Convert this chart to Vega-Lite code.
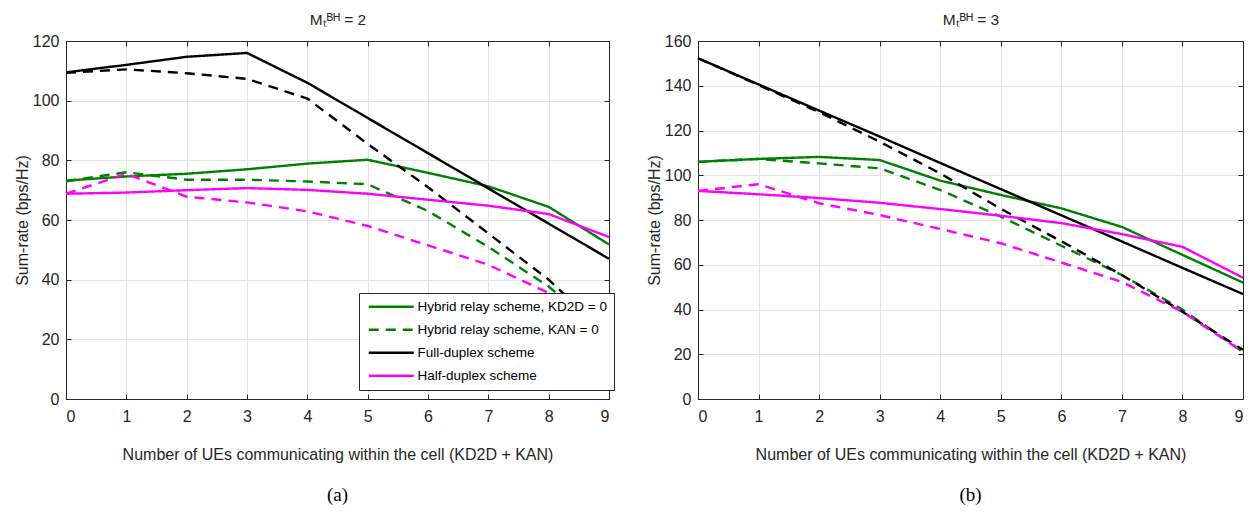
{
  "$schema": "https://vega.github.io/schema/vega-lite/v6.json",
  "background": "white",
  "padding": {"left": 13, "top": 12, "right": 0, "bottom": 0},
  "spacing": 30,
  "config": {
    "font": "Liberation Sans",
    "view": {"stroke": "#262626", "strokeWidth": 1},
    "axis": {
      "labelFontSize": 16,
      "titleFontSize": 16,
      "labelColor": "#262626",
      "titleColor": "#262626",
      "titleFontWeight": "normal",
      "gridColor": "#e3e3e3",
      "gridWidth": 1,
      "domainColor": "#262626",
      "tickColor": "#262626",
      "tickSize": -5,
      "labelFont": "Liberation Sans",
      "titleFont": "Liberation Sans"
    },
    "legend": {
      "orient": "none",
      "strokeColor": "#262626",
      "fillColor": "white",
      "labelFontSize": 13.5,
      "labelColor": "#000000",
      "labelFont": "Liberation Sans",
      "symbolType": "M-1,0H10.25",
      "symbolSize": 64,
      "symbolStrokeWidth": 2.5,
      "symbolOffset": 0,
      "labelOffset": 38,
      "padding": 7,
      "rowPadding": 8,
      "labelLimit": 300
    }
  },
  "datasets": {
    "a": [
      {"s": "Hybrid relay scheme, KD2D = 0", "x": 0, "y": 73.2},
      {"s": "Hybrid relay scheme, KD2D = 0", "x": 1, "y": 74.6},
      {"s": "Hybrid relay scheme, KD2D = 0", "x": 2, "y": 75.5},
      {"s": "Hybrid relay scheme, KD2D = 0", "x": 3, "y": 77.0},
      {"s": "Hybrid relay scheme, KD2D = 0", "x": 4, "y": 78.9},
      {"s": "Hybrid relay scheme, KD2D = 0", "x": 5, "y": 80.2},
      {"s": "Hybrid relay scheme, KD2D = 0", "x": 6, "y": 75.8},
      {"s": "Hybrid relay scheme, KD2D = 0", "x": 7, "y": 71.3},
      {"s": "Hybrid relay scheme, KD2D = 0", "x": 8, "y": 64.4},
      {"s": "Hybrid relay scheme, KD2D = 0", "x": 9, "y": 51.8},
      {"s": "Hybrid relay scheme, KAN = 0", "x": 0, "y": 73.0},
      {"s": "Hybrid relay scheme, KAN = 0", "x": 1, "y": 76.0},
      {"s": "Hybrid relay scheme, KAN = 0", "x": 2, "y": 73.5},
      {"s": "Hybrid relay scheme, KAN = 0", "x": 3, "y": 73.5},
      {"s": "Hybrid relay scheme, KAN = 0", "x": 4, "y": 72.9},
      {"s": "Hybrid relay scheme, KAN = 0", "x": 5, "y": 72.0},
      {"s": "Hybrid relay scheme, KAN = 0", "x": 6, "y": 63.0},
      {"s": "Hybrid relay scheme, KAN = 0", "x": 7, "y": 51.0},
      {"s": "Hybrid relay scheme, KAN = 0", "x": 8, "y": 37.7},
      {"s": "Hybrid relay scheme, KAN = 0", "x": 9, "y": 20.5},
      {"s": "Full-duplex scheme", "x": 0, "y": 109.5},
      {"s": "Full-duplex scheme", "x": 1, "y": 112.0},
      {"s": "Full-duplex scheme", "x": 2, "y": 114.7},
      {"s": "Full-duplex scheme", "x": 3, "y": 116.0},
      {"s": "Full-duplex scheme", "x": 4, "y": 106.0},
      {"s": "Full-duplex scheme", "x": 5, "y": 94.2},
      {"s": "Full-duplex scheme", "x": 6, "y": 82.4},
      {"s": "Full-duplex scheme", "x": 7, "y": 70.6},
      {"s": "Full-duplex scheme", "x": 8, "y": 58.8},
      {"s": "Full-duplex scheme", "x": 9, "y": 47.0},
      {"s": "Full-duplex dashed", "x": 0, "y": 109.3},
      {"s": "Full-duplex dashed", "x": 1, "y": 110.5},
      {"s": "Full-duplex dashed", "x": 2, "y": 109.2},
      {"s": "Full-duplex dashed", "x": 3, "y": 107.3},
      {"s": "Full-duplex dashed", "x": 4, "y": 100.7},
      {"s": "Full-duplex dashed", "x": 5, "y": 85.5},
      {"s": "Full-duplex dashed", "x": 6, "y": 71.0},
      {"s": "Full-duplex dashed", "x": 7, "y": 55.5},
      {"s": "Full-duplex dashed", "x": 8, "y": 40.0},
      {"s": "Full-duplex dashed", "x": 9, "y": 21.0},
      {"s": "Half-duplex scheme", "x": 0, "y": 68.8},
      {"s": "Half-duplex scheme", "x": 1, "y": 69.2},
      {"s": "Half-duplex scheme", "x": 2, "y": 70.0},
      {"s": "Half-duplex scheme", "x": 3, "y": 70.7},
      {"s": "Half-duplex scheme", "x": 4, "y": 70.1},
      {"s": "Half-duplex scheme", "x": 5, "y": 68.8},
      {"s": "Half-duplex scheme", "x": 6, "y": 66.8},
      {"s": "Half-duplex scheme", "x": 7, "y": 64.8},
      {"s": "Half-duplex scheme", "x": 8, "y": 62.0},
      {"s": "Half-duplex scheme", "x": 9, "y": 54.3},
      {"s": "Half-duplex dashed", "x": 0, "y": 68.8},
      {"s": "Half-duplex dashed", "x": 1, "y": 75.5},
      {"s": "Half-duplex dashed", "x": 2, "y": 67.8},
      {"s": "Half-duplex dashed", "x": 3, "y": 65.9},
      {"s": "Half-duplex dashed", "x": 4, "y": 62.9},
      {"s": "Half-duplex dashed", "x": 5, "y": 58.0},
      {"s": "Half-duplex dashed", "x": 6, "y": 51.5},
      {"s": "Half-duplex dashed", "x": 7, "y": 45.0},
      {"s": "Half-duplex dashed", "x": 8, "y": 35.5},
      {"s": "Half-duplex dashed", "x": 9, "y": 20.0}
    ],
    "b": [
      {"s": "Hybrid relay scheme, KD2D = 0", "x": 0, "y": 106.0},
      {"s": "Hybrid relay scheme, KD2D = 0", "x": 1, "y": 107.3},
      {"s": "Hybrid relay scheme, KD2D = 0", "x": 2, "y": 108.2},
      {"s": "Hybrid relay scheme, KD2D = 0", "x": 3, "y": 106.8},
      {"s": "Hybrid relay scheme, KD2D = 0", "x": 4, "y": 97.6},
      {"s": "Hybrid relay scheme, KD2D = 0", "x": 5, "y": 91.2},
      {"s": "Hybrid relay scheme, KD2D = 0", "x": 6, "y": 85.2},
      {"s": "Hybrid relay scheme, KD2D = 0", "x": 7, "y": 76.9},
      {"s": "Hybrid relay scheme, KD2D = 0", "x": 8, "y": 64.4},
      {"s": "Hybrid relay scheme, KD2D = 0", "x": 9, "y": 52.0},
      {"s": "Hybrid relay scheme, KAN = 0", "x": 0, "y": 106.0},
      {"s": "Hybrid relay scheme, KAN = 0", "x": 1, "y": 107.3},
      {"s": "Hybrid relay scheme, KAN = 0", "x": 2, "y": 105.3},
      {"s": "Hybrid relay scheme, KAN = 0", "x": 3, "y": 103.1},
      {"s": "Hybrid relay scheme, KAN = 0", "x": 4, "y": 93.4},
      {"s": "Hybrid relay scheme, KAN = 0", "x": 5, "y": 81.5},
      {"s": "Hybrid relay scheme, KAN = 0", "x": 6, "y": 68.5},
      {"s": "Hybrid relay scheme, KAN = 0", "x": 7, "y": 55.4},
      {"s": "Hybrid relay scheme, KAN = 0", "x": 8, "y": 40.0},
      {"s": "Hybrid relay scheme, KAN = 0", "x": 9, "y": 21.0},
      {"s": "Full-duplex scheme", "x": 0, "y": 152.3},
      {"s": "Full-duplex scheme", "x": 1, "y": 140.6},
      {"s": "Full-duplex scheme", "x": 2, "y": 128.9},
      {"s": "Full-duplex scheme", "x": 3, "y": 117.3},
      {"s": "Full-duplex scheme", "x": 4, "y": 105.5},
      {"s": "Full-duplex scheme", "x": 5, "y": 93.8},
      {"s": "Full-duplex scheme", "x": 6, "y": 82.1},
      {"s": "Full-duplex scheme", "x": 7, "y": 70.4},
      {"s": "Full-duplex scheme", "x": 8, "y": 58.6},
      {"s": "Full-duplex scheme", "x": 9, "y": 46.9},
      {"s": "Full-duplex dashed", "x": 0, "y": 152.3},
      {"s": "Full-duplex dashed", "x": 1, "y": 140.3},
      {"s": "Full-duplex dashed", "x": 2, "y": 128.2},
      {"s": "Full-duplex dashed", "x": 3, "y": 115.0},
      {"s": "Full-duplex dashed", "x": 4, "y": 100.8},
      {"s": "Full-duplex dashed", "x": 5, "y": 85.0},
      {"s": "Full-duplex dashed", "x": 6, "y": 70.5},
      {"s": "Full-duplex dashed", "x": 7, "y": 55.4},
      {"s": "Full-duplex dashed", "x": 8, "y": 39.0},
      {"s": "Full-duplex dashed", "x": 9, "y": 22.0},
      {"s": "Half-duplex scheme", "x": 0, "y": 93.0},
      {"s": "Half-duplex scheme", "x": 1, "y": 91.5},
      {"s": "Half-duplex scheme", "x": 2, "y": 89.8},
      {"s": "Half-duplex scheme", "x": 3, "y": 87.7},
      {"s": "Half-duplex scheme", "x": 4, "y": 84.9},
      {"s": "Half-duplex scheme", "x": 5, "y": 81.9},
      {"s": "Half-duplex scheme", "x": 6, "y": 78.6},
      {"s": "Half-duplex scheme", "x": 7, "y": 73.7},
      {"s": "Half-duplex scheme", "x": 8, "y": 68.0},
      {"s": "Half-duplex scheme", "x": 9, "y": 54.2},
      {"s": "Half-duplex dashed", "x": 0, "y": 93.0},
      {"s": "Half-duplex dashed", "x": 1, "y": 96.0},
      {"s": "Half-duplex dashed", "x": 2, "y": 87.5},
      {"s": "Half-duplex dashed", "x": 3, "y": 82.2},
      {"s": "Half-duplex dashed", "x": 4, "y": 76.0},
      {"s": "Half-duplex dashed", "x": 5, "y": 69.6},
      {"s": "Half-duplex dashed", "x": 6, "y": 61.0},
      {"s": "Half-duplex dashed", "x": 7, "y": 52.3},
      {"s": "Half-duplex dashed", "x": 8, "y": 39.0},
      {"s": "Half-duplex dashed", "x": 9, "y": 21.0}
    ]
  },
  "hconcat": [
    {
      "width": 543,
      "height": 358,
      "data": {"name": "a"},
      "title": {"text": "(a)", "orient": "bottom", "font": "Liberation Serif", "fontSize": 19, "fontWeight": "normal", "color": "#000000", "offset": 24},
      "layer": [
        {
          "mark": {"type": "line", "strokeWidth": 2.4},
          "encoding": {
            "x": {"field": "x", "type": "quantitative", "scale": {"domain": [0, 9], "nice": false},
                  "axis": {"orient": "bottom", "title": "Number of UEs communicating within the cell (KD2D + KAN)", "values": [0,1,2,3,4,5,6,7,8,9], "grid": true, "labelPadding": 14, "titlePadding": 22}},
            "y": {"field": "y", "type": "quantitative", "scale": {"domain": [0, 120], "nice": false},
                  "axis": {"title": "Sum-rate (bps/Hz)", "values": [0,20,40,60,80,100,120], "grid": true, "labelPadding": 12, "titlePadding": 2}},
            "color": {"field": "s", "type": "nominal",
                      "scale": {"domain": ["Hybrid relay scheme, KD2D = 0", "Hybrid relay scheme, KAN = 0", "Full-duplex scheme", "Half-duplex scheme", "Full-duplex dashed", "Half-duplex dashed"],
                                "range": ["#008000", "#008000", "#000000", "#ff00ff", "#000000", "#ff00ff"]},
                      "legend": {"title": null, "values": ["Hybrid relay scheme, KD2D = 0", "Hybrid relay scheme, KAN = 0", "Full-duplex scheme", "Half-duplex scheme"], "legendX": 293, "legendY": 252}},
            "strokeDash": {"field": "s", "type": "nominal",
                      "scale": {"domain": ["Hybrid relay scheme, KD2D = 0", "Hybrid relay scheme, KAN = 0", "Full-duplex scheme", "Half-duplex scheme", "Full-duplex dashed", "Half-duplex dashed"],
                                "range": [[1, 0], [10, 7], [1, 0], [1, 0], [10, 7], [10, 7]]},
                      "legend": {"title": null, "values": ["Hybrid relay scheme, KD2D = 0", "Hybrid relay scheme, KAN = 0", "Full-duplex scheme", "Half-duplex scheme"], "legendX": 293, "legendY": 252}}
          }
        },
        {
          "mark": {"type": "point", "opacity": 0},
          "encoding": {
            "x": {"field": "x", "type": "quantitative", "axis": {"orient": "top", "labels": false, "grid": false, "values": [0,1,2,3,4,5,6,7,8,9], "title": "Mₜᴮᴴ = 2", "titleFontSize": 15.5, "titlePadding": 13}},
            "y": {"field": "y", "type": "quantitative", "axis": {"orient": "right", "labels": false, "grid": false, "values": [0,20,40,60,80,100,120], "title": null, "minExtent": 0, "maxExtent": 2}}
          }
        }
      ],
      "resolve": {"axis": {"x": "independent", "y": "independent"}}
    },
    {
      "width": 545,
      "height": 358,
      "data": {"name": "b"},
      "title": {"text": "(b)", "orient": "bottom", "font": "Liberation Serif", "fontSize": 19, "fontWeight": "normal", "color": "#000000", "offset": 24},
      "layer": [
        {
          "mark": {"type": "line", "strokeWidth": 2.4},
          "encoding": {
            "x": {"field": "x", "type": "quantitative", "scale": {"domain": [0, 9], "nice": false},
                  "axis": {"orient": "bottom", "title": "Number of UEs communicating within the cell (KD2D + KAN)", "values": [0,1,2,3,4,5,6,7,8,9], "grid": true, "labelPadding": 14, "titlePadding": 22}},
            "y": {"field": "y", "type": "quantitative", "scale": {"domain": [0, 160], "nice": false},
                  "axis": {"title": "Sum-rate (bps/Hz)", "values": [0,20,40,60,80,100,120,140,160], "grid": true, "labelPadding": 12, "titlePadding": 2}},
            "color": {"field": "s", "type": "nominal",
                      "scale": {"domain": ["Hybrid relay scheme, KD2D = 0", "Hybrid relay scheme, KAN = 0", "Full-duplex scheme", "Half-duplex scheme", "Full-duplex dashed", "Half-duplex dashed"],
                                "range": ["#008000", "#008000", "#000000", "#ff00ff", "#000000", "#ff00ff"]},
                      "legend": {"title": null, "values": ["Hybrid relay scheme, KD2D = 0", "Hybrid relay scheme, KAN = 0", "Full-duplex scheme", "Half-duplex scheme"], "legendX": 294, "legendY": 252}},
            "strokeDash": {"field": "s", "type": "nominal",
                      "scale": {"domain": ["Hybrid relay scheme, KD2D = 0", "Hybrid relay scheme, KAN = 0", "Full-duplex scheme", "Half-duplex scheme", "Full-duplex dashed", "Half-duplex dashed"],
                                "range": [[1, 0], [10, 7], [1, 0], [1, 0], [10, 7], [10, 7]]},
                      "legend": {"title": null, "values": ["Hybrid relay scheme, KD2D = 0", "Hybrid relay scheme, KAN = 0", "Full-duplex scheme", "Half-duplex scheme"], "legendX": 294, "legendY": 252}}
          }
        },
        {
          "mark": {"type": "point", "opacity": 0},
          "encoding": {
            "x": {"field": "x", "type": "quantitative", "axis": {"orient": "top", "labels": false, "grid": false, "values": [0,1,2,3,4,5,6,7,8,9], "title": "Mₜᴮᴴ = 3", "titleFontSize": 15.5, "titlePadding": 13}},
            "y": {"field": "y", "type": "quantitative", "axis": {"orient": "right", "labels": false, "grid": false, "values": [0,20,40,60,80,100,120,140,160], "title": null, "minExtent": 0, "maxExtent": 2}}
          }
        }
      ],
      "resolve": {"axis": {"x": "independent", "y": "independent"}}
    }
  ]
}
